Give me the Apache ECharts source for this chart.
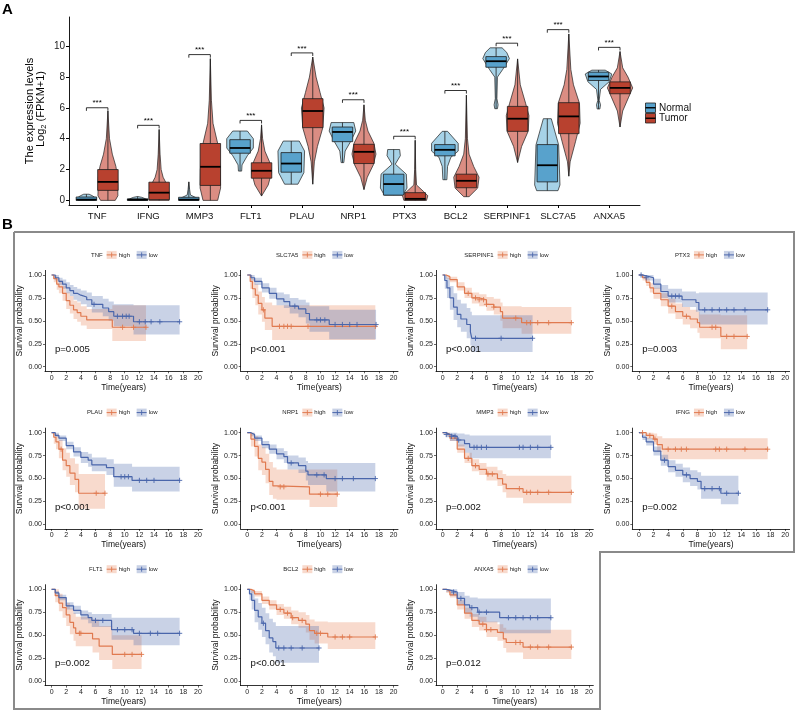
<!DOCTYPE html>
<html><head><meta charset="utf-8">
<script src="https://cdn.jsdelivr.net/npm/echarts@6/dist/echarts.min.js"></script>
<style>html,body{margin:0;padding:0;background:#fff}#c{width:796px;height:710px}</style>
</head><body><div id="c"></div>
<script>
// ---------------- Panel A data ----------------
const genes = ['TNF','IFNG','MMP3','FLT1','PLAU','NRP1','PTX3','BCL2','SERPINF1','SLC7A5','ANXA5'];
const exprTicks = [0,2,4,6,8,10];
// [q1, median, q3]
const normalBox = [[0.0,0.05,0.22],[0.0,0.04,0.1],[0.0,0.05,0.2],[3.06,3.4,3.94],[1.83,2.39,3.1],[3.81,4.44,4.76],[0.34,1.06,1.7],[2.89,3.28,3.62],[8.64,9.03,9.33],[1.2,2.28,3.62],[7.78,8.04,8.32]];
const tumorBox = [[0.65,1.2,2.0],[0.05,0.5,1.18],[0.97,2.18,3.69],[1.44,1.92,2.44],[4.72,5.8,6.6],[2.39,3.15,3.64],[0.02,0.1,0.5],[0.82,1.27,1.7],[4.48,5.3,6.1],[4.33,5.45,6.34],[6.92,7.3,7.69]];
// violin outline: [value, relative half width]
const normalViolin = [
  [[0,0.6],[0.2,0.62],[0.3,0.45],[0.4,0.2]],
  [[0,0.6],[0.1,0.6],[0.2,0.3],[0.25,0]],
  [[0,0.7],[0.15,0.6],[0.35,0.12],[0.7,0.06],[1.2,0]],
  [[1.9,0.12],[2.3,0.15],[2.9,0.55],[3.4,1.0],[4.0,1.0],[4.5,0.55]],
  [[1.05,0.5],[1.8,0.95],[3.2,1.0],[3.85,0.6]],
  [[2.45,0.1],[3.2,0.2],[3.8,0.6],[4.5,1.0],[5.05,0.85]],
  [[0.34,0.7],[0.8,1.0],[1.7,0.95],[2.35,0.12],[2.9,0.5],[3.3,0.45]],
  [[1.34,0.15],[2.2,0.2],[2.8,0.45],[3.2,1.0],[3.7,1.0],[4.48,0.2]],
  [[5.95,0.1],[6.2,0.15],[6.6,0.06],[8.0,0.1],[8.5,0.5],[9.2,1.0],[9.6,0.8],[9.9,0.45]],
  [[0.63,0.8],[1.0,0.95],[3.6,0.85],[5.3,0.3]],
  [[5.93,0.1],[6.2,0.15],[6.5,0.05],[7.2,0.15],[7.7,0.8],[8.2,1.0],[8.45,0.5]]
];
const tumorViolin = [
  [[0,0.55],[0.3,0.75],[1.5,0.72],[2.2,0.6],[3,0.33],[4,0.12],[5.8,0]],
  [[0,0.75],[0.5,0.75],[1,0.6],[1.5,0.3],[2,0.15],[3,0.07],[4.6,0]],
  [[0,0.55],[0.8,0.77],[2,0.75],[3.7,0.55],[5,0.2],[6.5,0.08],[9.2,0]],
  [[0.28,0],[1.0,0.5],[1.8,0.75],[2.5,0.6],[3.2,0.25],[4,0.08],[4.9,0]],
  [[1.05,0],[2.5,0.12],[3.5,0.35],[4.7,0.75],[6,0.85],[7,0.55],[8,0.25],[9.3,0]],
  [[0.7,0],[1.5,0.25],[2.3,0.7],[3,0.9],[3.7,0.75],[4.5,0.3],[5.2,0.1],[6.2,0]],
  [[0,0.85],[0.3,0.95],[0.6,0.6],[1,0.1],[2,0.04],[3.9,0]],
  [[0.24,0.2],[0.8,0.85],[1.5,0.95],[2.2,0.55],[3,0.2],[4,0.08],[6.83,0]],
  [[2.46,0],[3.5,0.3],[4.5,0.8],[5.5,0.85],[6.3,0.6],[7.5,0.2],[9.18,0]],
  [[1.57,0],[2.5,0.1],[3.8,0.5],[5,0.85],[6.3,0.8],[7.5,0.35],[8.5,0.15],[10.8,0]],
  [[4.76,0],[5.8,0.2],[6.7,0.65],[7.3,0.95],[8,0.6],[8.6,0.2],[9.66,0]]
];
const sigY = [6.01,4.87,9.46,5.19,9.57,6.53,4.16,7.13,10.2,11.08,9.93];
const sigLabel = '***';
const groupNames = ['Normal','Tumor'];

// ---------------- Panel B data ----------------
const kmGenes = ['TNF','SLC7A5','SERPINF1','PTX3','PLAU','NRP1','MMP3','IFNG','FLT1','BCL2','ANXA5'];
const kmPvalues = ['p=0.005','p<0.001','p<0.001','p=0.003','p<0.001','p<0.001','p=0.002','p=0.002','p=0.002','p<0.001','p=0.012'];
const kmTimeTicks = [0,2,4,6,8,10,12,14,16,18,20];
const kmProbTicks = [0,0.25,0.5,0.75,1];
const kmGroups = ['high','low'];
// [time, survival, lower CI, upper CI]
const TNF_high = [[0,1,1,1],[0.3,0.96,0.92,1],[0.7,0.9,0.84,0.97],[1,0.87,0.8,0.94],[1.5,0.8,0.72,0.88],[2,0.72,0.63,0.81],[2.5,0.67,0.58,0.77],[3,0.62,0.52,0.72],[3.5,0.59,0.49,0.7],[4,0.55,0.45,0.66],[4.8,0.51,0.41,0.63],[8.3,0.43,0.28,0.67],[12.9,0.43,0.28,0.67]];
const TNF_low = [[0,1,1,1],[0.5,0.97,0.94,1],[1,0.93,0.89,0.97],[1.5,0.9,0.85,0.95],[2,0.86,0.8,0.92],[2.5,0.83,0.77,0.89],[3,0.8,0.73,0.87],[3.5,0.78,0.71,0.85],[4,0.76,0.68,0.83],[4.8,0.73,0.65,0.81],[5.5,0.68,0.59,0.77],[7,0.64,0.55,0.74],[7.8,0.6,0.5,0.71],[8.5,0.55,0.44,0.68],[11.2,0.49,0.35,0.67],[17.5,0.49,0.35,0.67]];
const TNF_high_cens = [9.7,11.2,12.9];
const TNF_low_cens = [5.8,9,9.7,10.2,10.6,12,12.8,13.6,14.8,17.5];

const SLC7A5_high = [[0,1,1,1],[0.4,0.93,0.85,1],[0.7,0.85,0.75,0.96],[1.1,0.78,0.67,0.9],[1.5,0.69,0.57,0.82],[2,0.62,0.49,0.76],[2.4,0.53,0.4,0.7],[3.4,0.44,0.29,0.67],[17.5,0.44,0.29,0.67]];
const SLC7A5_low = [[0,1,1,1],[0.5,0.97,0.94,1],[1,0.93,0.89,0.97],[2,0.86,0.81,0.91],[3,0.8,0.74,0.86],[4,0.74,0.67,0.81],[5,0.71,0.64,0.79],[5.8,0.66,0.58,0.75],[7,0.63,0.54,0.73],[8,0.58,0.47,0.7],[8.5,0.51,0.38,0.66],[11.2,0.46,0.3,0.62],[17.6,0.46,0.3,0.62]];
const SLC7A5_high_cens = [2.2,4.4,5,5.5,6,8.3,17.5];
const SLC7A5_low_cens = [6.5,9.5,10,10.6,12,13,14,15,17.6];

const SERPINF1_high = [[0,1,1,1],[0.5,0.98,0.96,1],[1,0.95,0.92,0.98],[2,0.87,0.83,0.92],[3,0.8,0.75,0.86],[4,0.75,0.69,0.81],[5,0.73,0.66,0.79],[6,0.68,0.61,0.76],[7,0.65,0.57,0.74],[7.9,0.6,0.5,0.7],[8.2,0.53,0.42,0.66],[10.8,0.48,0.36,0.65],[17.6,0.48,0.36,0.65]];
const SERPINF1_low = [[0,1,1,1],[0.3,0.94,0.85,1],[0.6,0.86,0.75,0.97],[1,0.75,0.62,0.88],[1.5,0.65,0.51,0.8],[2,0.57,0.43,0.73],[2.5,0.52,0.38,0.69],[3.3,0.46,0.31,0.64],[3.8,0.38,0.23,0.6],[4,0.31,0.16,0.56],[12.3,0.31,0.16,0.56]];
const SERPINF1_high_cens = [3.5,4.5,5,5.6,6,7,10,11.5,12,13,14.5,17.6];
const SERPINF1_low_cens = [4.5,8,12.3];

const PTX3_high = [[0,1,1,1],[0.5,0.97,0.94,1],[1,0.92,0.88,0.96],[1.5,0.86,0.81,0.91],[2,0.8,0.74,0.86],[3,0.73,0.66,0.8],[4,0.66,0.58,0.74],[5,0.6,0.52,0.69],[6,0.55,0.46,0.65],[7,0.52,0.42,0.62],[8,0.48,0.37,0.6],[8.3,0.43,0.31,0.57],[11.2,0.33,0.19,0.56],[14.8,0.33,0.19,0.56]];
const PTX3_low = [[0,1,1,1],[0.5,0.99,0.97,1],[1,0.97,0.94,1],[2,0.9,0.85,0.96],[3,0.82,0.75,0.89],[4,0.77,0.7,0.85],[5.9,0.73,0.65,0.82],[7.8,0.7,0.6,0.8],[8.2,0.62,0.46,0.81],[17.6,0.62,0.46,0.81]];
const PTX3_high_cens = [4.5,6.5,10,10.5,12,13,14.8];
const PTX3_low_cens = [0.3,1,4.5,5,5.5,9,10,11,12,13,14.5,17.6];

const PLAU_high = [[0,1,1,1],[0.3,0.95,0.88,1],[0.6,0.9,0.82,0.98],[1,0.82,0.72,0.92],[1.5,0.7,0.59,0.83],[2,0.64,0.52,0.78],[2.5,0.56,0.43,0.72],[3.2,0.49,0.35,0.66],[3.7,0.34,0.17,0.55],[7.3,0.34,0.17,0.55]];
const PLAU_low = [[0,1,1,1],[0.5,0.97,0.95,1],[1,0.94,0.91,0.97],[2,0.86,0.82,0.9],[3,0.79,0.74,0.84],[4,0.73,0.67,0.79],[5,0.7,0.63,0.77],[5.5,0.65,0.58,0.73],[7.5,0.62,0.54,0.71],[8.5,0.52,0.41,0.66],[11,0.48,0.36,0.63],[17.5,0.48,0.36,0.63]];
const PLAU_high_cens = [1.3,6.1,7.3];
const PLAU_low_cens = [9.5,10,10.5,12,13,14,17.5];

const NRP1_high = [[0,1,1,1],[0.5,0.93,0.85,1],[1,0.85,0.74,0.96],[1.5,0.72,0.59,0.87],[2,0.68,0.54,0.84],[2.5,0.6,0.45,0.77],[3,0.47,0.32,0.68],[3.5,0.42,0.28,0.62],[4,0.41,0.27,0.6],[8.5,0.33,0.19,0.6],[12.3,0.33,0.19,0.6]];
const NRP1_low = [[0,1,1,1],[0.5,0.98,0.96,1],[1,0.94,0.91,0.97],[2,0.87,0.83,0.91],[3,0.82,0.77,0.87],[4,0.77,0.71,0.83],[5,0.74,0.67,0.8],[5.5,0.67,0.6,0.75],[7,0.64,0.56,0.73],[8,0.58,0.48,0.69],[8.3,0.54,0.43,0.67],[10.8,0.5,0.36,0.67],[17.5,0.5,0.36,0.67]];
const NRP1_high_cens = [4.5,5,10,11,12.3];
const NRP1_low_cens = [6,9.5,10.5,12,13,14.5,17.5];

const MMP3_high = [[0,1,1,1],[0.5,0.98,0.96,1],[1,0.94,0.91,0.97],[2,0.82,0.78,0.87],[3,0.72,0.67,0.78],[4,0.64,0.58,0.71],[5,0.6,0.54,0.67],[6,0.55,0.48,0.63],[7.5,0.5,0.42,0.59],[8.2,0.44,0.35,0.55],[8.7,0.39,0.29,0.53],[11,0.35,0.23,0.53],[17.6,0.35,0.23,0.53]];
const MMP3_low = [[0,1,1,1],[0.5,0.98,0.95,1],[1,0.96,0.91,1],[2,0.92,0.85,0.99],[3,0.88,0.78,0.98],[3.7,0.84,0.72,0.97],[14.8,0.84,0.72,0.97]];
const MMP3_high_cens = [3.5,4.5,6.2,6.8,10.5,11.5,12,13,14.5,17.6];
const MMP3_low_cens = [0.5,1.2,1.7,2.2,4.3,4.7,5.3,6,10.5,11,12,13,14.8];

const IFNG_high = [[0,1,1,1],[1,0.97,0.93,1],[2,0.93,0.87,0.99],[2.5,0.87,0.79,0.96],[3.2,0.82,0.71,0.94],[17.6,0.82,0.71,0.94]];
const IFNG_low = [[0,1,1,1],[0.5,0.95,0.92,0.98],[1,0.9,0.86,0.94],[2,0.8,0.75,0.85],[3,0.7,0.64,0.76],[4,0.63,0.57,0.7],[5,0.59,0.52,0.66],[6,0.54,0.46,0.62],[7,0.5,0.42,0.59],[8,0.47,0.38,0.57],[8.5,0.39,0.28,0.53],[11.2,0.34,0.22,0.53],[13.6,0.34,0.22,0.53]];
const IFNG_high_cens = [0.5,1.5,2.2,4,5,5.8,6.5,10.5,11,12,14.5,17.6];
const IFNG_low_cens = [3.5,6.5,9,10,11,12,13.6];

const FLT1_high = [[0,1,1,1],[0.5,0.93,0.86,1],[1,0.85,0.76,0.95],[1.5,0.8,0.69,0.91],[2,0.72,0.6,0.85],[2.5,0.64,0.51,0.79],[3,0.58,0.44,0.74],[3.3,0.52,0.38,0.7],[5.6,0.46,0.31,0.67],[6.5,0.38,0.23,0.6],[8.3,0.29,0.13,0.5],[12.3,0.29,0.13,0.5]];
const FLT1_low = [[0,1,1,1],[0.5,0.96,0.94,0.98],[1,0.91,0.88,0.94],[2,0.82,0.78,0.86],[3,0.77,0.73,0.82],[4,0.72,0.67,0.77],[5,0.69,0.63,0.75],[5.5,0.66,0.59,0.73],[8.2,0.56,0.45,0.69],[11.2,0.52,0.39,0.69],[17.5,0.52,0.39,0.69]];
const FLT1_high_cens = [3.8,4,10,11,12.3];
const FLT1_low_cens = [6,7,9,10,11,12,13.5,14.5,17.5];

const BCL2_high = [[0,1,1,1],[0.5,0.98,0.96,1],[1,0.95,0.92,0.98],[2,0.88,0.84,0.92],[3,0.83,0.78,0.88],[4,0.78,0.72,0.84],[5,0.74,0.68,0.81],[6,0.69,0.62,0.77],[7,0.66,0.58,0.75],[8,0.62,0.53,0.72],[8.5,0.55,0.45,0.67],[9.2,0.52,0.41,0.65],[11,0.48,0.35,0.64],[17.5,0.48,0.35,0.64]];
const BCL2_low = [[0,1,1,1],[0.3,0.95,0.88,1],[0.6,0.88,0.78,0.98],[1,0.77,0.64,0.9],[1.5,0.7,0.56,0.85],[2,0.63,0.48,0.8],[2.5,0.55,0.4,0.74],[3,0.47,0.31,0.68],[3.5,0.43,0.27,0.64],[3.9,0.36,0.2,0.6],[9.8,0.36,0.2,0.6]];
const BCL2_high_cens = [4.5,5.5,6.2,7.5,9.5,10,12,13,14,17.5];
const BCL2_low_cens = [2.2,4.3,5,6,7.5,9.8];

const ANXA5_high = [[0,1,1,1],[0.5,0.98,0.96,1],[1,0.94,0.91,0.97],[2,0.83,0.78,0.88],[3,0.74,0.68,0.8],[4,0.66,0.59,0.73],[5,0.62,0.55,0.7],[6,0.56,0.48,0.65],[7.5,0.53,0.44,0.62],[8.3,0.46,0.36,0.58],[8.7,0.42,0.31,0.56],[11,0.37,0.24,0.56],[17.6,0.37,0.24,0.56]];
const ANXA5_low = [[0,1,1,1],[0.5,0.99,0.97,1],[1,0.97,0.93,1],[2,0.9,0.83,0.97],[3,0.83,0.74,0.93],[3.7,0.8,0.7,0.91],[4.8,0.75,0.64,0.9],[7.8,0.69,0.52,0.9],[14.8,0.69,0.52,0.9]];
const ANXA5_high_cens = [5.5,6,6.6,10,10.6,12,13,14.5,17.6];
const ANXA5_low_cens = [1.5,2.5,4,5,6,9,10,11,12,13,14.8];

const kmCurves = [
  [TNF_high, TNF_low, TNF_high_cens, TNF_low_cens],
  [SLC7A5_high, SLC7A5_low, SLC7A5_high_cens, SLC7A5_low_cens],
  [SERPINF1_high, SERPINF1_low, SERPINF1_high_cens, SERPINF1_low_cens],
  [PTX3_high, PTX3_low, PTX3_high_cens, PTX3_low_cens],
  [PLAU_high, PLAU_low, PLAU_high_cens, PLAU_low_cens],
  [NRP1_high, NRP1_low, NRP1_high_cens, NRP1_low_cens],
  [MMP3_high, MMP3_low, MMP3_high_cens, MMP3_low_cens],
  [IFNG_high, IFNG_low, IFNG_high_cens, IFNG_low_cens],
  [FLT1_high, FLT1_low, FLT1_high_cens, FLT1_low_cens],
  [BCL2_high, BCL2_low, BCL2_high_cens, BCL2_low_cens],
  [ANXA5_high, ANXA5_low, ANXA5_high_cens, ANXA5_low_cens]
];

// ---------------- styling / layout ----------------
const FONT = 'Liberation Sans, Arial, Helvetica, sans-serif';
const NV_FILL = '#a6d2e7', NB_FILL = '#58a2cc';
const TV_FILL = '#db8d83', TB_FILL = '#b8412f';
const EDGE = '#1e1e1e';
const HIGH_C = '#e07a50', LOW_C = '#4a66ab';
const HIGH_F = 'rgba(232,132,90,0.3)', LOW_F = 'rgba(75,106,173,0.3)';
const DODGE = 0.21, VHALF = 0.26, BHALF = 0.2;
const kmCols = [45, 240.7, 436, 632.3];
const kmRows = [270.4, 428.1, 584.7];
const KM_W = 157.3, KM_H = 100.9;
const P_POS = [0.45, 0.19];

function violinItem(params, api) {
  const gi = api.value(0), grp = api.value(1);
  const prof = grp ? tumorViolin[gi] : normalViolin[gi];
  const box = grp ? tumorBox[gi] : normalBox[gi];
  const c = gi + 1 + (grp ? DODGE : -DODGE);
  const pts = [];
  prof.forEach(p => pts.push(api.coord([c + p[1] * VHALF, p[0]])));
  prof.slice().reverse().forEach(p => pts.push(api.coord([c - p[1] * VHALF, p[0]])));
  const b1 = api.coord([c - BHALF, box[2]]);
  const b2 = api.coord([c + BHALF, box[0]]);
  const m1 = api.coord([c - BHALF, box[1]]);
  const m2 = api.coord([c + BHALF, box[1]]);
  const w1 = api.coord([c, prof[0][0]]);
  const w2 = api.coord([c, prof[prof.length - 1][0]]);
  return {type: 'group', children: [
    {type: 'polygon', shape: {points: pts}, style: {fill: grp ? TV_FILL : NV_FILL, stroke: EDGE, lineWidth: 0.7}},
    {type: 'line', shape: {x1: w1[0], y1: w1[1], x2: w2[0], y2: w2[1]}, style: {stroke: EDGE, lineWidth: 0.8}},
    {type: 'rect', shape: {x: b1[0], y: b1[1], width: b2[0] - b1[0], height: Math.max(b2[1] - b1[1], 1.2)}, style: {fill: grp ? TB_FILL : NB_FILL, stroke: EDGE, lineWidth: 0.8}},
    {type: 'line', shape: {x1: m1[0], y1: m1[1], x2: m2[0], y2: m2[1]}, style: {stroke: '#000', lineWidth: 1.8}}
  ]};
}

function bracketItem(params, api) {
  const gi = api.value(0), y = api.value(1);
  const c = gi + 1;
  const a = api.coord([c - DODGE, y - 0.2]);
  const b = api.coord([c - DODGE, y]);
  const d = api.coord([c + DODGE, y]);
  const e = api.coord([c + DODGE, y - 0.2]);
  const t = api.coord([c, y]);
  return {type: 'group', children: [
    {type: 'polyline', shape: {points: [a, b, d, e]}, style: {stroke: '#000', lineWidth: 0.8, fill: null}},
    {type: 'text', x: t[0], y: t[1] - 0.5, style: {text: sigLabel, fontSize: 8, fontFamily: FONT, fill: '#000', align: 'center', verticalAlign: 'bottom'}}
  ]};
}

function stepPts(curve, col) {
  const pts = [];
  for (let i = 0; i < curve.length; i++) {
    pts.push([curve[i][0], curve[i][col]]);
    if (i + 1 < curve.length) pts.push([curve[i + 1][0], curve[i][col]]);
  }
  return pts;
}
function ribbonRenderer(curve, fill) {
  return function (params, api) {
    const up = stepPts(curve, 3).map(p => api.coord(p));
    const lo = stepPts(curve, 2).reverse().map(p => api.coord(p));
    return {type: 'polygon', shape: {points: up.concat(lo)}, style: {fill: fill, stroke: null}};
  };
}
function survAt(curve, t) {
  let s = curve[0][1];
  for (let i = 0; i < curve.length; i++) if (curve[i][0] <= t) s = curve[i][1];
  return s;
}
function censorRenderer(color) {
  return function (params, api) {
    const p = api.coord([api.value(0), api.value(1)]);
    return {type: 'group', children: [
      {type: 'line', shape: {x1: p[0], y1: p[1] - 2.6, x2: p[0], y2: p[1] + 2.6}, style: {stroke: color, lineWidth: 0.9}},
      {type: 'line', shape: {x1: p[0] - 2.6, y1: p[1], x2: p[0] + 2.6, y2: p[1]}, style: {stroke: color, lineWidth: 0.9}}
    ]};
  };
}

const grids = [{left: 69, top: 17, width: 571, height: 188, outerBoundsMode: 'none'}];
const xAxes = [{
  gridIndex: 0, type: 'value', min: 0.45, max: 11.6,
  axisLine: {onZero: false, lineStyle: {color: '#000', width: 0.9}},
  axisTick: {length: 3, lineStyle: {color: '#000'}, customValues: genes.map((g, i) => i + 1)},
  axisLabel: {customValues: genes.map((g, i) => i + 1), formatter: v => genes[Math.round(v) - 1], fontSize: 9.6, color: '#111', margin: 6, fontFamily: FONT},
  splitLine: {show: false}
}];
const yAxes = [{
  gridIndex: 0, type: 'value', min: -0.3, max: 11.9,
  axisLine: {onZero: false, lineStyle: {color: '#000', width: 0.9}},
  axisTick: {length: 3, lineStyle: {color: '#000'}, customValues: exprTicks},
  axisLabel: {customValues: exprTicks, fontSize: 10, color: '#222', margin: 4, fontFamily: FONT},
  splitLine: {show: false}
}];
const series = [
  {type: 'custom', xAxisIndex: 0, yAxisIndex: 0, renderItem: violinItem, data: genes.flatMap((g, i) => [[i, 0], [i, 1]]), silent: true},
  {type: 'custom', xAxisIndex: 0, yAxisIndex: 0, renderItem: bracketItem, data: sigY.map((y, i) => [i, y]), silent: true}
];
const graphics = [
  {type: 'text', x: 2, y: 2, style: {text: 'A', fontSize: 15, fontWeight: 'bold', fontFamily: FONT, fill: '#000'}},
  {type: 'text', x: 2, y: 217, style: {text: 'B', fontSize: 15, fontWeight: 'bold', fontFamily: FONT, fill: '#000'}},
  {type: 'text', x: 30, y: 111, rotation: Math.PI / 2, style: {text: 'The expression levels', fontSize: 11, fontFamily: FONT, fill: '#000', align: 'center', verticalAlign: 'middle'}},
  {type: 'text', x: 40.5, y: 109, rotation: Math.PI / 2, style: {text: '{a|Log}{b|2}{a| (FPKM+1)}', fontFamily: FONT, fill: '#000', align: 'center', verticalAlign: 'middle',
    rich: {a: {fontSize: 11, fontFamily: FONT}, b: {fontSize: 7.5, fontFamily: FONT, padding: [6, 0, 0, 0]}}}},
  {type: 'polyline', shape: {points: [[14, 232], [794, 232], [794, 552], [600, 552], [600, 709], [14, 709], [14, 232]]}, style: {stroke: '#8a8a8a', lineWidth: 2, fill: null}}
];
// Panel A legend
groupNames.forEach((name, g) => {
  const y0 = 103 + g * 10.5;
  graphics.push({type: 'rect', shape: {x: 645.5, y: y0, width: 10, height: 9.5}, style: {fill: g ? TB_FILL : NB_FILL, stroke: EDGE, lineWidth: 0.8}});
  graphics.push({type: 'line', shape: {x1: 645.5, y1: y0 + 4.75, x2: 655.5, y2: y0 + 4.75}, style: {stroke: '#000', lineWidth: 1.4}});
  graphics.push({type: 'text', x: 659, y: y0 + 5, style: {text: name, fontSize: 10, fontFamily: FONT, fill: '#111', verticalAlign: 'middle'}});
});

kmGenes.forEach((gene, k) => {
  const r = Math.floor(k / 4), col = k % 4;
  const left = kmCols[col], top = kmRows[r];
  const gi = k + 1;
  grids.push({left: left, top: top, width: KM_W, height: KM_H, outerBoundsMode: 'none'});
  xAxes.push({
    gridIndex: gi, type: 'value', min: -0.9, max: 20.6,
    name: 'Time(years)', nameLocation: 'middle', nameGap: 11.5,
    nameTextStyle: {fontSize: 8.5, fontFamily: FONT, color: '#111'},
    axisLine: {onZero: false, lineStyle: {color: '#000', width: 0.8}},
    axisTick: {length: 2, lineStyle: {color: '#000', width: 0.6}, customValues: kmTimeTicks},
    axisLabel: {customValues: kmTimeTicks, fontSize: 7, color: '#222', margin: 3, fontFamily: FONT},
    splitLine: {show: false}
  });
  yAxes.push({
    gridIndex: gi, type: 'value', min: -0.05, max: 1.05,
    name: 'Survival probability', nameLocation: 'middle', nameGap: 20,
    nameTextStyle: {fontSize: 8.5, fontFamily: FONT, color: '#111'},
    axisLine: {onZero: false, lineStyle: {color: '#000', width: 0.8}},
    axisTick: {length: 2, lineStyle: {color: '#000', width: 0.6}, customValues: kmProbTicks},
    axisLabel: {customValues: kmProbTicks, formatter: v => v.toFixed(2), fontSize: 7, color: '#222', margin: 3, fontFamily: FONT},
    splitLine: {show: false}
  });
  const [hi, lo, ch, cl] = kmCurves[k];
  series.push({type: 'custom', xAxisIndex: gi, yAxisIndex: gi, data: [[0, 0]], renderItem: ribbonRenderer(hi, HIGH_F), silent: true, z: 1});
  series.push({type: 'custom', xAxisIndex: gi, yAxisIndex: gi, data: [[0, 0]], renderItem: ribbonRenderer(lo, LOW_F), silent: true, z: 1});
  series.push({type: 'line', xAxisIndex: gi, yAxisIndex: gi, step: 'end', showSymbol: false, data: hi.map(p => [p[0], p[1]]), lineStyle: {color: HIGH_C, width: 1.2}, itemStyle: {color: HIGH_C}, silent: true, z: 3});
  series.push({type: 'line', xAxisIndex: gi, yAxisIndex: gi, step: 'end', showSymbol: false, data: lo.map(p => [p[0], p[1]]), lineStyle: {color: LOW_C, width: 1.2}, itemStyle: {color: LOW_C}, silent: true, z: 3});
  series.push({type: 'custom', xAxisIndex: gi, yAxisIndex: gi, data: ch.map(t => [t, survAt(hi, t)]), renderItem: censorRenderer(HIGH_C), silent: true, z: 4});
  series.push({type: 'custom', xAxisIndex: gi, yAxisIndex: gi, data: cl.map(t => [t, survAt(lo, t)]), renderItem: censorRenderer(LOW_C), silent: true, z: 4});
  series.push({type: 'custom', xAxisIndex: gi, yAxisIndex: gi, data: [P_POS], silent: true, z: 5,
    renderItem: (params, api) => {
      const p = api.coord([api.value(0), api.value(1)]);
      return {type: 'text', x: p[0], y: p[1], style: {text: kmPvalues[k], fontSize: 9.6, fontFamily: FONT, fill: '#111', verticalAlign: 'middle', align: 'left'}};
    }});
  // per-plot legend
  const cx = left + KM_W / 2, ly = top - 15.5;
  graphics.push({type: 'text', x: cx - 21, y: ly, style: {text: gene, fontSize: 6, fontFamily: FONT, fill: '#222', align: 'right', verticalAlign: 'middle'}});
  [[HIGH_C, HIGH_F, cx - 17, kmGroups[0]], [LOW_C, LOW_F, cx + 13, kmGroups[1]]].forEach(([c, f, x0, lab]) => {
    graphics.push({type: 'rect', shape: {x: x0, y: ly - 4, width: 10, height: 8}, style: {fill: f}});
    graphics.push({type: 'line', shape: {x1: x0, y1: ly, x2: x0 + 10, y2: ly}, style: {stroke: c, lineWidth: 1}});
    graphics.push({type: 'line', shape: {x1: x0 + 5, y1: ly - 2.5, x2: x0 + 5, y2: ly + 2.5}, style: {stroke: c, lineWidth: 0.9}});
    graphics.push({type: 'text', x: x0 + 12, y: ly, style: {text: lab, fontSize: 6, fontFamily: FONT, fill: '#222', align: 'left', verticalAlign: 'middle'}});
  });
});

const chart = echarts.init(document.getElementById('c'), null, {renderer: 'canvas'});
chart.setOption({
  animation: false,
  backgroundColor: '#fff',
  textStyle: {fontFamily: FONT},
  grid: grids, xAxis: xAxes, yAxis: yAxes, series: series, graphic: graphics
});
</script></body></html>
